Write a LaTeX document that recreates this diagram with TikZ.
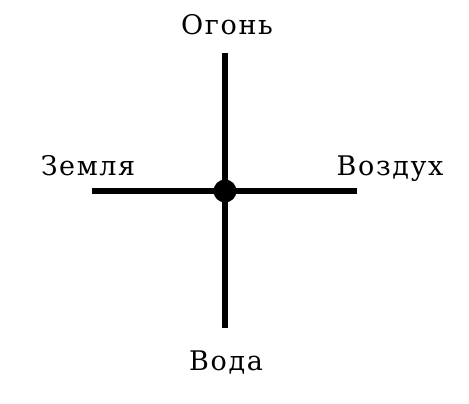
\documentclass[tikz,border=0pt]{standalone}
\usepackage{fontspec}
\newfontfamily\elemfont[LetterSpace=6]{DejaVu Serif}
\begin{document}
\begin{tikzpicture}[x=1pt,y=1pt,line cap=butt,font=\elemfont\fontsize{27}{27}\selectfont]
			\tikzset{arm/.style={line width=6.5pt},
				elem/.style={anchor=base,inner sep=0pt}
			}
			\useasboundingbox (0,0) rectangle (469,404);
			\coordinate (center) at (225,213);
			\coordinate (top) at (225,351);
			\coordinate (bottom) at (225,76);
			\coordinate (left) at (92,213);
			\coordinate (right) at (357,213);
			\draw[arm] (top)--(bottom);
			\draw[arm] (left)--(right);
			\fill (center)circle(11.5pt);
			\node[elem] (fire) at (227,369) {Огонь};
			\node[elem] (earth) at (88,228) {Земля};
			\node[elem] (air) at (390,228) {Воздух};
			\node[elem] (water) at (226,33) {Вода};
		\end{tikzpicture}
\end{document}
